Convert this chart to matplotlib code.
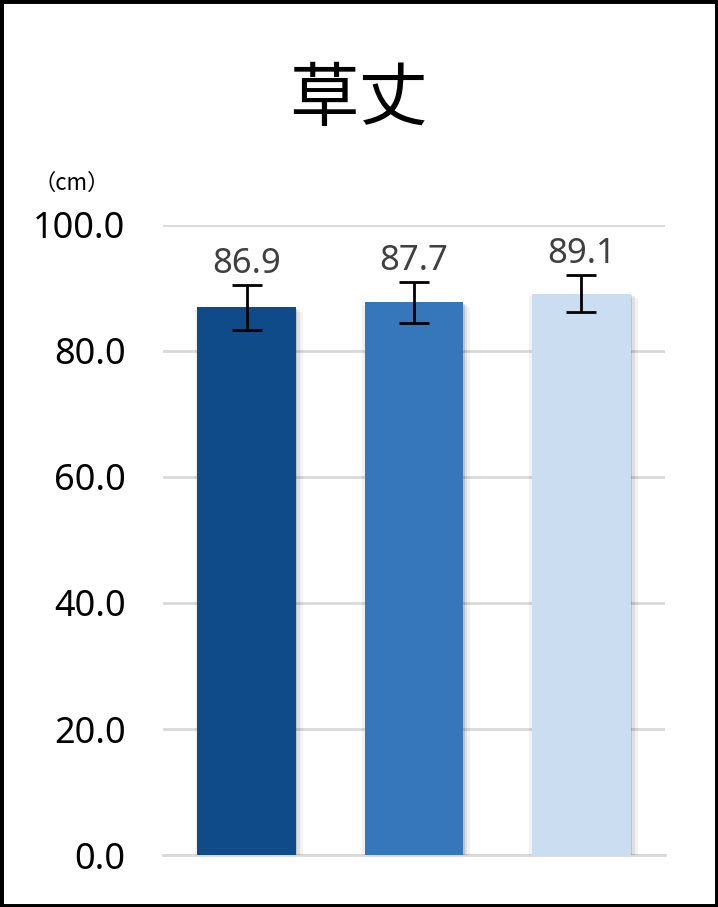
import matplotlib.pyplot as plt
import matplotlib.patheffects as pe
from matplotlib.patches import Rectangle

plt.rcParams['font.family'] = ['Noto Sans', 'Noto Sans CJK JP', 'DejaVu Sans']

groups = ['A', 'B', 'C']
values = [86.9, 87.7, 89.1]
errors = [3.6, 3.2, 2.9]
colors = ['#0F4B88', '#3676BA', '#CADDF1']
yticks = [0, 20, 40, 60, 80, 100]

fig = plt.figure(figsize=(7.18, 9.07), dpi=100)
ax = fig.add_axes([0.227, 0.0573, 0.699, 0.6947])

x = range(len(groups))
shadow = [pe.SimplePatchShadow(offset=(5, -3), shadow_rgbFace='k', alpha=0.05),
          pe.SimplePatchShadow(offset=(3, -2), shadow_rgbFace='k', alpha=0.08),
          pe.SimplePatchShadow(offset=(-2, -2), shadow_rgbFace='k', alpha=0.05),
          pe.SimplePatchShadow(offset=(1, -1), shadow_rgbFace='k', alpha=0.12),
          pe.Normal()]
bars = ax.bar(x, values, width=0.59, color=colors, zorder=3)
for b in bars:
    b.set_path_effects(shadow)

ax.errorbar(x, values, yerr=errors, fmt='none', ecolor='black',
            elinewidth=2, capsize=11, capthick=2, zorder=4)

for i, (v, e) in enumerate(zip(values, errors)):
    ax.annotate(f'{v:.1f}', (i, v + e), xytext=(0, 3), textcoords='offset points',
                ha='center', va='bottom', fontsize=25, color='#404040')

ax.set_xlim(-0.5, len(groups) - 0.5)
ax.set_ylim(0, 100)
ax.set_yticks(yticks)
ax.set_yticklabels([f'{t:.1f}' for t in yticks], fontsize=26)
ax.set_xticks([])
ax.tick_params(axis='y', length=0, pad=27)
ax.grid(axis='y', color='#D9D9D9', linewidth=2, zorder=0)
ax.set_axisbelow(True)
for s in ['top', 'right', 'left']:
    ax.spines[s].set_visible(False)
ax.spines['bottom'].set_color('#D9D9D9')
ax.spines['bottom'].set_linewidth(2)

fig.text(0.5, 0.889, '草丈', ha='center', va='center', fontsize=50,
         fontweight='normal', family=['Noto Sans CJK JP'])
fig.text(0.100, 0.798, '（cm）', ha='center', va='center', fontsize=16,
         family=['Noto Sans CJK JP'])

fig.patches.append(Rectangle((0, 0), 1, 1, transform=fig.transFigure,
                             fill=False, edgecolor='black', linewidth=5))

fig.savefig('out.png', dpi=100)
